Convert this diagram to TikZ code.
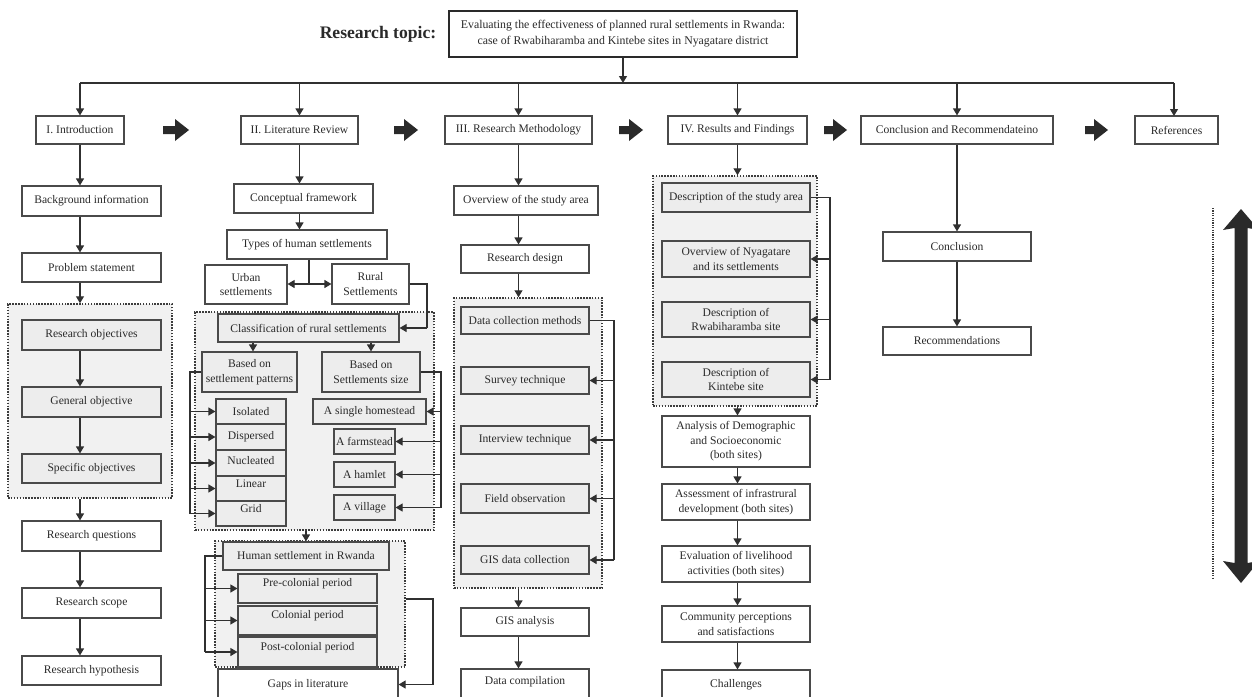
\documentclass[tikz,border=0pt]{standalone}
\usepackage{fontspec}
\setmainfont{Liberation Serif}
\usetikzlibrary{arrows.meta}
\definecolor{ink}{HTML}{2A2A2A}
\definecolor{boxline}{HTML}{4A4A4A}
\definecolor{linkc}{HTML}{303030}
\definecolor{shade}{HTML}{EDEDED}
\definecolor{regionfill}{HTML}{F1F1F1}
\definecolor{regionline}{HTML}{3C3C3C}
% box by corners: [options]{name}{x1}{y1}{x2}{y2}{text}
\newcommand\bx[7][]{\node[box,#1,minimum width={#5pt-#3pt},minimum height={#6pt-#4pt}] (#2) at ({(#3+#5)/2},{(#4+#6)/2}) {#7};}
% thick block arrow pointing right, centred on y=130
\newcommand\blockarrow[2]{\fill[ink] (#1,126) -- ({#2-14},126) -- ({#2-14},119) -- (#2,130) -- ({#2-14},141) -- ({#2-14},134) -- (#1,134) -- cycle;}
\begin{document}
\begin{tikzpicture}[x=1pt,y=-1pt,
  font=\fontsize{11.6}{14.5}\selectfont, text=ink,
  box/.style={draw=boxline,line width=1.2pt,fill=white,align=center,inner sep=1pt},
  shaded/.style={fill=shade},
  region/.style={draw=regionline,line width=1.5pt,dash pattern=on 1.5pt off 1.4pt,fill=regionfill},
  link/.style={draw=linkc,line width=1.2pt},
  arr/.style={link,-{Triangle[width=8pt,length=7pt]}}]
\useasboundingbox (0,0) rectangle (1252,696);
\fill[white] (0,0) rectangle (1252,696);
\clip (0,0) rectangle (1252,696);

% ---------- title ----------
\node[font=\fontsize{17.6}{20}\selectfont\bfseries] (rtl) at (378,34) {Research topic:};
\bx[line width=2pt,draw=ink,font=\fontsize{11.8}{16}\selectfont]{topic}{449}{11}{797}{57}{Evaluating the effectiveness of planned rural settlements in Rwanda:\\case of Rwabiharamba and Kintebe sites in Nyagatare district}

% ---------- chapter row ----------
\bx{intro}{36}{116}{124}{144}{I. Introduction}
\bx{lit}{241}{116}{358}{144}{II. Literature Review}
\bx{meth}{445}{116}{592}{144}{III. Research Methodology}
\bx{res}{668}{116}{807}{144}{IV. Results and Findings}
\bx{conc}{861}{116}{1053}{144}{Conclusion and Recommendateino}
\bx{refs}{1135}{116}{1218}{144}{References}

\coordinate (bus) at (0,83);
\draw[arr] (topic.south) -- (topic.south |- bus);
\draw[link] (intro.north |- bus) -- (1174,83);
\foreach \n in {intro,lit,meth,res,conc} \draw[arr] (\n.north |- bus) -- (\n.north);
\draw[arr] (1174,83) -- (1174,116);

\blockarrow{163}{189}
\blockarrow{394}{418}
\blockarrow{619}{643}
\blockarrow{824}{847}
\blockarrow{1085}{1108}

% ---------- I. Introduction ----------
\bx[region]{regA}{8}{304}{172}{498}{}
\bx{bg}{22}{186}{161}{216}{Background information}
\bx{prob}{22}{253}{161}{282}{Problem statement}
\bx[shaded]{robj}{22}{320}{161}{350}{Research objectives}
\bx[shaded]{gobj}{22}{387}{161}{417}{General objective}
\bx[shaded]{sobj}{22}{454}{161}{483}{Specific objectives}
\bx{rq}{22}{521}{161}{551}{Research questions}
\bx{rs}{22}{588}{161}{618}{Research scope}
\bx{rh}{22}{656}{161}{685}{Research hypothesis}

\draw[arr] (intro.south) -- (bg.north -| intro.south);
\draw[arr] (bg.south -| intro.south) -- (prob.north -| intro.south);
\draw[arr] (prob.south -| intro.south) -- (regA.north -| intro.south);
\draw[arr] (robj.south -| intro.south) -- (gobj.north -| intro.south);
\draw[arr] (gobj.south -| intro.south) -- (sobj.north -| intro.south);
\draw[arr] (regA.south -| intro.south) -- (rq.north -| intro.south);
\draw[arr] (rq.south -| intro.south) -- (rs.north -| intro.south);
\draw[arr] (rs.south -| intro.south) -- (rh.north -| intro.south);

% ---------- II. Literature Review ----------
\bx{cf}{234}{184}{373}{213}{Conceptual framework}
\bx{types}{227}{230}{387}{259}{Types of human settlements}
\bx{urban}{205}{265}{287}{304}{Urban\\settlements}
\bx{rural}{332}{264}{409}{304}{Rural\\Settlements}

\draw[arr] (lit.south) -- (cf.north -| lit.south);
\draw[arr] (cf.south -| lit.south) -- (types.north -| lit.south);
\coordinate (tj) at (309,284);
\draw[link] (types.south -| tj) -- (tj);
\draw[arr] (tj) -- (urban.east |- tj);
\draw[arr] (tj) -- (rural.west |- tj);

\bx[region]{regB}{195}{312}{434}{530}{}
\bx[shaded]{cls}{218}{314}{399}{342}{Classification of rural settlements}
\bx[shaded]{bp}{202}{352}{297}{392}{Based on\\settlement patterns}
\bx[shaded]{bs}{322}{352}{420}{392}{Based on\\Settlements size}
\bx[shaded]{iso}{216}{399}{286}{424}{Isolated}
\bx[shaded]{disp}{216}{424}{286}{450}{Dispersed}
\bx[shaded,text depth=6pt]{nuc}{216}{450}{286}{476}{Nucleated}
\bx[shaded,text depth=10pt]{lin}{216}{476}{286}{501}{Linear}
\bx[shaded,text depth=10pt]{grid}{216}{501}{286}{526}{Grid}
\bx[shaded]{sh}{313}{399}{426}{424}{A single homestead}
\bx[shaded]{farm}{334}{429}{395}{454}{A farmstead}
\bx[shaded]{ham}{334}{462}{395}{487}{A hamlet}
\bx[shaded]{vil}{334}{495}{395}{520}{A village}

\coordinate (rj) at (427,328);
\draw[link] (rural.east) -- (rural.east -| rj) -- (rj);
\draw[arr] (rj) -- (cls.east |- rj);
\draw[arr] (cls.south -| 253,0) -- (bp.north -| 253,0);
\draw[arr] (cls.south -| bs.north) -- (bs.north);

\coordinate (lbx) at (190,0);
\draw[link] (bp.west) -- (lbx |- bp.west) -- (lbx |- grid.west);
\foreach \n in {iso,disp,nuc,lin,grid} \draw[arr] (lbx |- \n.west) -- (\n.west);
\coordinate (rbx) at (441,0);
\draw[link] (bs.east) -- (rbx |- bs.east) -- (rbx |- vil.east);
\foreach \n in {sh,farm,ham,vil} \draw[arr] (rbx |- \n.east) -- (\n.east);

\bx[region]{regC}{215}{541}{405}{667}{}
\bx[shaded]{hs}{223}{542}{389}{570}{Human settlement in Rwanda}
\bx[shaded,text depth=12pt]{pre}{238}{574}{377}{603}{Pre-colonial period}
\bx[shaded,text depth=12pt]{colo}{238}{606}{377}{635}{Colonial period}
\bx[shaded,text depth=12pt]{post}{238}{637}{377}{667}{Post-colonial period}
\bx{gaps}{218}{669}{398}{700}{Gaps in literature}

\draw[arr] (regB.south -| hs.north) -- (hs.north);
\coordinate (hbx) at (205,0);
\draw[link] (hs.west) -- (hbx |- hs.west) -- (hbx |- post.west);
\foreach \n in {pre,colo,post} \draw[arr] (hbx |- \n.west) -- (\n.west);
\coordinate (gj) at (433,599);
\draw[link] (regC.east |- gj) -- (gj) -- (gj |- gaps.east);
\draw[arr] (gj |- gaps.east) -- (gaps.east);

% ---------- III. Research Methodology ----------
\bx{ov}{454}{186}{598}{215}{Overview of the study area}
\bx{rd}{461}{245}{589}{273}{Research design}
\bx[region]{regD}{454}{298}{602}{588}{}
\bx[shaded]{dcm}{461}{307}{589}{334}{Data collection methods}
\bx[shaded]{sur}{461}{367}{589}{394}{Survey technique}
\bx[shaded]{intv}{461}{426}{589}{454}{Interview technique}
\bx[shaded]{fo}{461}{484}{589}{513}{Field observation}
\bx[shaded]{gdc}{461}{546}{589}{574}{GIS data collection}
\bx{gis}{461}{608}{589}{636}{GIS analysis}
\bx[text depth=9pt]{dc}{461}{669}{589}{700}{Data compilation}

\draw[arr] (meth.south) -- (ov.north -| meth.south);
\draw[arr] (ov.south -| meth.south) -- (rd.north -| meth.south);
\draw[arr] (rd.south -| meth.south) -- (regD.north -| meth.south);
\coordinate (mbx) at (614,0);
\draw[link] (dcm.east) -- (mbx |- dcm.east) -- (mbx |- gdc.east);
\foreach \n in {sur,intv,fo,gdc} \draw[arr] (mbx |- \n.east) -- (\n.east);
\draw[arr] (regD.south -| meth.south) -- (gis.north -| meth.south);
\draw[arr] (gis.south -| meth.south) -- (dc.north -| meth.south);

% ---------- IV. Results and Findings ----------
\bx[region]{regE}{653}{176}{817}{406}{}
\bx[shaded]{dsa}{662}{183}{810}{212}{Description of the study area}
\bx[shaded]{onys}{662}{241}{810}{277}{Overview of Nyagatare\\and its settlements}
\bx[shaded]{drs}{662}{302}{810}{337}{Description of\\Rwabiharamba site}
\bx[shaded]{dks}{662}{362}{810}{397}{Description of\\Kintebe site}
\bx{ads}{662}{416}{810}{467}{Analysis of Demographic\\and Socioeconomic\\(both sites)}
\bx{aid}{662}{484}{810}{520}{Assessment of infrastrural\\development (both sites)}
\bx{ela}{662}{546}{810}{582}{Evaluation of livelihood\\activities (both sites)}
\bx{cps}{662}{606}{810}{642}{Community perceptions\\and satisfactions}
\bx{chal}{662}{670}{810}{700}{Challenges}

\draw[arr] (res.south) -- (regE.north -| res.south);
\coordinate (ebx) at (830,0);
\draw[link] (dsa.east) -- (ebx |- dsa.east) -- (ebx |- dks.east);
\foreach \n in {onys,drs,dks} \draw[arr] (ebx |- \n.east) -- (\n.east);
\draw[arr] (regE.south -| res.south) -- (ads.north -| res.south);
\draw[arr] (ads.south -| res.south) -- (aid.north -| res.south);
\draw[arr] (aid.south -| res.south) -- (ela.north -| res.south);
\draw[arr] (ela.south -| res.south) -- (cps.north -| res.south);
\draw[arr] (cps.south -| res.south) -- (chal.north -| res.south);

% ---------- Conclusion ----------
\bx{concl}{883}{232}{1031}{261}{Conclusion}
\bx{recs}{883}{327}{1031}{355}{Recommendations}
\draw[arr] (conc.south) -- (concl.north -| conc.south);
\draw[arr] (concl.south -| conc.south) -- (recs.north -| conc.south);

% ---------- side marker ----------
\draw[regionline,line width=1.3pt,dash pattern=on 1.2pt off 1.2pt] (1213,208) -- (1213,578);
\fill[ink] (1241,209) -- (1259,230) -- (1247.5,228) -- (1247.5,563) -- (1259,561)
  -- (1241,583) -- (1223,561) -- (1234.5,563) -- (1234.5,228) -- (1223,230) -- cycle;
\end{tikzpicture}
\end{document}
